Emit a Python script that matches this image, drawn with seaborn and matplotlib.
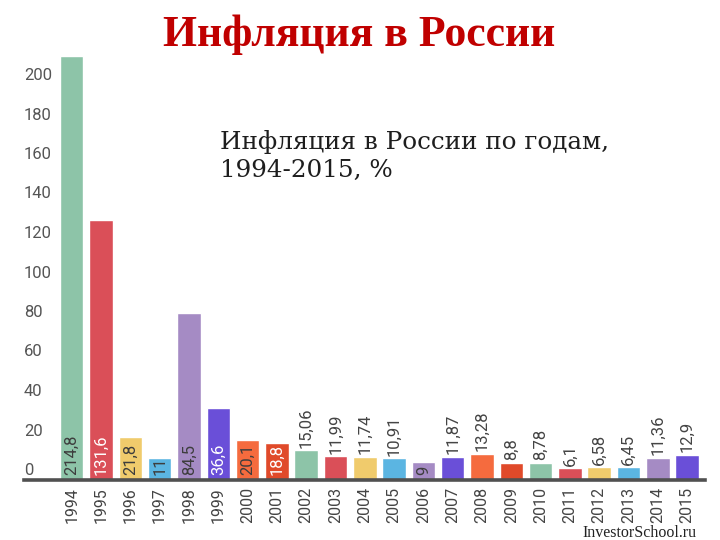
import matplotlib
matplotlib.use("Agg")
import matplotlib.pyplot as plt
import matplotlib.transforms as mtransforms
import seaborn as sns
import pandas as pd

years = [str(y) for y in range(1994, 2016)]
values = [214.8, 131.6, 21.8, 11, 84.5, 36.6, 20.1, 18.8, 15.06, 11.99, 11.74,
          10.91, 9, 11.87, 13.28, 8.8, 8.78, 6.1, 6.58, 6.45, 11.36, 12.9]
labels = ["214,8", "131,6", "21,8", "11", "84,5", "36,6", "20,1", "18,8", "15,06",
          "11,99", "11,74", "10,91", "9", "11,87", "13,28", "8,8", "8,78", "6,1",
          "6,58", "6,45", "11,36", "12,9"]
inside = [True] * 8 + [False] * 4 + [True] + [False] * 9
label_colors = ["#3d3d3d", "white", "#3d3d3d", "#3d3d3d", "#3d3d3d", "white", "#3d3d3d", "white",
                "#444444", "#444444", "#444444", "#444444", "#3d3d3d", "#444444", "#444444",
                "#444444", "#444444", "#444444", "#444444", "#444444", "#444444", "#444444"]
cycle = ["#8dc4a8", "#da4f58", "#f0cb6c", "#5bb5e2", "#a58bc4", "#6a4fd8", "#f56b3e", "#e04a2a"]
palette = [cycle[i % 8] for i in range(len(years))]
yticks = list(range(0, 201, 20))

sns.set_theme(style="white")
plt.rcParams["font.family"] = ["Roboto", "DejaVu Sans"]

df = pd.DataFrame({"year": years, "value": values})
fig = plt.figure(figsize=(7.2, 5.4), dpi=100)
ax = fig.add_axes([24 / 720, 1 - 480 / 540, (705 - 24) / 720, (480 - 45.5) / 540])
sns.barplot(data=df, x="year", y="value", hue="year", palette=palette, order=years,
            hue_order=years, legend=False, width=0.8, saturation=1, ax=ax)
ax.set_xlim(-1.63, 21.61)
ax.set_ylim(0, 220)
ax.set_xlabel("")
ax.set_ylabel("")
for s in ["left", "right", "top"]:
    ax.spines[s].set_visible(False)
ax.spines["bottom"].set_color("#505050")
ax.spines["bottom"].set_linewidth(2.6)

ax.set_yticks(yticks)
ax.set_yticklabels([str(t) for t in yticks])
ax.tick_params(axis="y", length=0, pad=0, labelsize=12, labelcolor="#555555")
shift = mtransforms.ScaledTranslation(0, 0.11, fig.dpi_scale_trans)
for lab in ax.get_yticklabels():
    lab.set_horizontalalignment("left")
    lab.set_transform(lab.get_transform() + shift)

ax.tick_params(axis="x", length=0, pad=5, labelsize=11.5, labelcolor="#444444")
for lab in ax.get_xticklabels():
    lab.set_rotation(90)

for i, (v, t, ins, c) in enumerate(zip(values, labels, inside, label_colors)):
    if ins:
        ax.text(i, 2.5, t, rotation=90, ha="center", va="bottom", fontsize=12, color=c)
    else:
        ax.text(i, v + 1.2, t, rotation=90, ha="center", va="bottom", fontsize=12, color=c)

fig.text(359 / 720, 0.935, "Инфляция в России", ha="center", va="center",
         family=["Liberation Serif"], fontweight="bold", fontsize=31.5, color="#c00000")
fig.text(220 / 720, 1 - 156 / 540, "Инфляция в России по годам,\n1994-2015, %",
         ha="left", va="center", family=["DejaVu Serif"], fontsize=17.7,
         color="#1e1e1e", linespacing=1.25)
fig.text(697 / 720, 1 - 537 / 540, "InvestorSchool.ru", ha="right", va="baseline",
         family=["Liberation Serif"], fontsize=11.5, color="#222222")

fig.savefig("out.png", dpi=100)
